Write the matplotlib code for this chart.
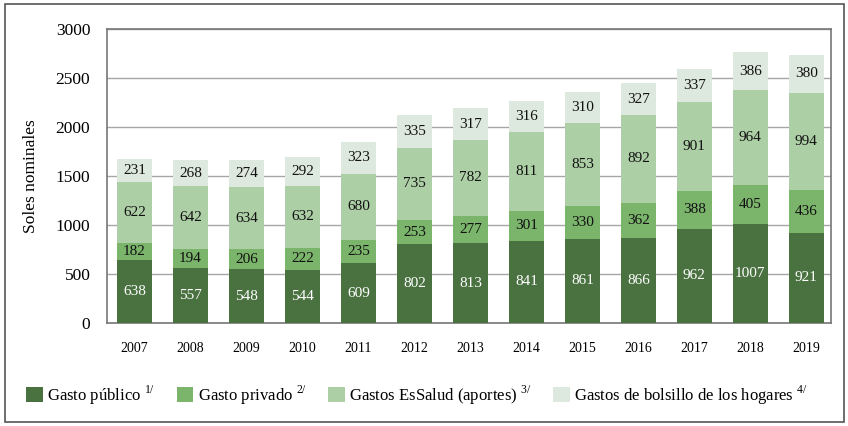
import matplotlib.pyplot as plt
import numpy as np
from matplotlib.patches import Rectangle

plt.rcParams['font.family'] = ['Liberation Serif', 'DejaVu Serif']
plt.rcParams['mathtext.fontset'] = 'custom'
plt.rcParams['mathtext.rm'] = 'Liberation Serif'

years = ['2007', '2008', '2009', '2010', '2011', '2012', '2013',
         '2014', '2015', '2016', '2017', '2018', '2019']
gasto_publico = [638, 557, 548, 544, 609, 802, 813, 841, 861, 866, 962, 1007, 921]
gasto_privado = [182, 194, 206, 222, 235, 253, 277, 301, 330, 362, 388, 405, 436]
gasto_essalud = [622, 642, 634, 632, 680, 735, 782, 811, 853, 892, 901, 964, 994]
gasto_bolsillo = [231, 268, 274, 292, 323, 335, 317, 316, 310, 327, 337, 386, 380]

series = [gasto_publico, gasto_privado, gasto_essalud, gasto_bolsillo]
labels = ['Gasto público $^{\\mathrm{1/}}$', 'Gasto privado $^{\\mathrm{2/}}$',
          'Gastos EsSalud (aportes) $^{\\mathrm{3/}}$',
          'Gastos de bolsillo de los hogares $^{\\mathrm{4/}}$']
colores = ['#4a7240', '#7bb46b', '#adcfa6', '#dde8de']
texto_color = ['white', '#111111', '#111111', '#111111']

fig = plt.figure(figsize=(8.48, 4.26), dpi=100)
ax = fig.add_axes([107 / 848, 1 - 323 / 426, 724 / 848, 294 / 426])

x = np.arange(len(years))
base = np.zeros(len(years))
handles = []
for vals, lab, col, tcol in zip(series, labels, colores, texto_color):
    vals = np.array(vals)
    b = ax.bar(x, vals, 0.625, bottom=base, color=col, label=lab, zorder=3)
    handles.append(b)
    # etiqueta con el valor en el centro de cada segmento
    for xi, v, bo in zip(x, vals, base):
        ax.text(xi, bo + v / 2, str(v), ha='center', va='center',
                fontsize=11, color=tcol, zorder=4)
    base = base + vals

ax.set_xlim(-0.49, 12.44)
ax.set_ylim(0, 3000)
ax.set_yticks(range(0, 3001, 500))
ax.set_xticks(x)
ax.set_xticklabels(years, fontsize=10)
ax.tick_params(axis='y', length=0, pad=12, labelsize=12.5)
ax.tick_params(axis='x', length=0, pad=14)
ax.grid(axis='y', color='#a6a6a6', linewidth=1, zorder=0)
for s in ax.spines.values():
    s.set_color('#777777')
    s.set_linewidth(1.2)
ax.set_ylabel('Soles nominales', fontsize=12.5, labelpad=12)

fig.legend(handles=handles, loc='center', ncol=4,
           bbox_to_anchor=(417 / 848, 1 - 395 / 426), frameon=False,
           fontsize=12, handlelength=1.0, handleheight=1.0,
           handletextpad=0.25, columnspacing=1.3)

# marco exterior
fig.patches.append(Rectangle((5 / 848, 4 / 426), 839 / 848, 418 / 426,
                             transform=fig.transFigure, fill=False,
                             edgecolor='#555555', linewidth=1.2))

fig.savefig('out.png', dpi=100)
